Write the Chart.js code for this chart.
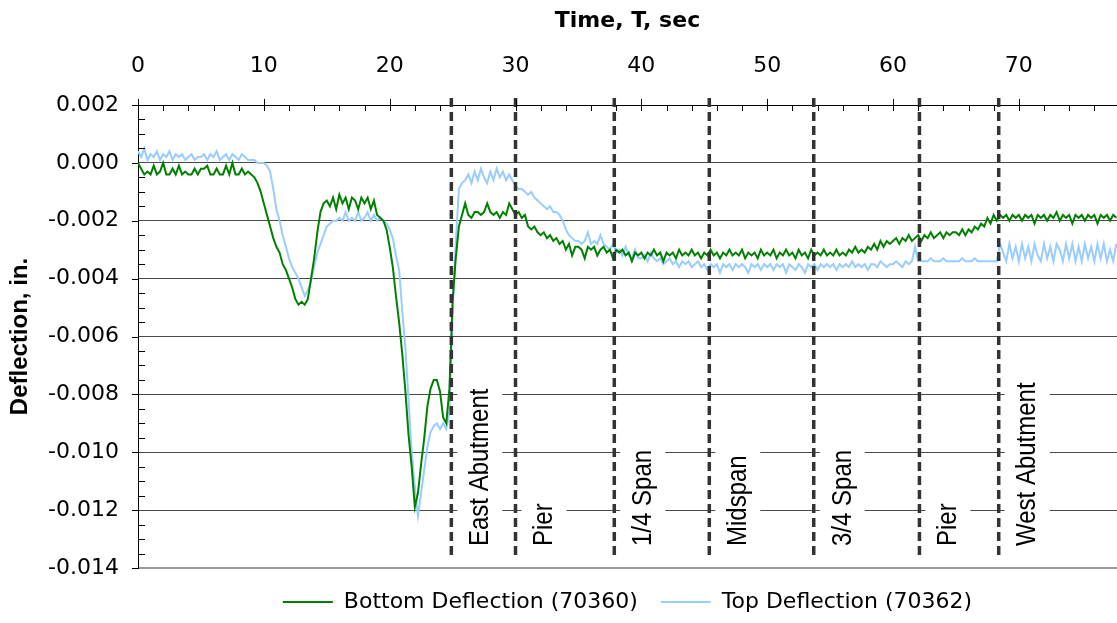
<!DOCTYPE html>
<html>
<head>
<meta charset="utf-8">
<script src="https://cdn.jsdelivr.net/npm/chart.js@4.4.1/dist/chart.umd.min.js"></script>
<style>
html,body{margin:0;padding:0;background:#fff}
#wrap{width:1117px;height:623px;position:relative}
</style>
</head>
<body>
<div id="wrap"><canvas id="c"></canvas></div>
<script>
// Sample interval of the digitised records (seconds)
const sampleStep = 0.25;

// Bottom Deflection (70360), inches, t = 0 .. 77.75 s
const bottomDeflection = [
 0.0000,-0.0002,-0.0004,-0.0003,-0.0004,-0.0001,-0.0004,-0.0003,0.0000,-0.0004,-0.0004,-0.0002,-0.0004,-0.0001,-0.0004,-0.0003,-0.0004,-0.0004,-0.0002,-0.0004,
 -0.0002,-0.0002,-0.0001,-0.0004,-0.0004,-0.0002,-0.0004,-0.0004,-0.0001,-0.0004,0.0000,-0.0004,-0.0004,-0.0002,-0.0004,-0.0003,-0.0004,-0.0005,-0.0007,-0.0010,
 -0.0014,-0.0018,-0.0022,-0.0026,-0.0029,-0.0031,-0.0035,-0.0037,-0.0040,-0.0043,-0.0047,-0.0049,-0.0048,-0.0049,-0.0047,-0.0040,-0.0033,-0.0024,-0.0017,-0.0014,
 -0.0013,-0.0015,-0.0012,-0.0016,-0.0011,-0.0014,-0.0012,-0.0016,-0.0012,-0.0013,-0.0016,-0.0012,-0.0014,-0.0012,-0.0016,-0.0013,-0.0018,-0.0019,-0.0020,-0.0023,
 -0.0029,-0.0036,-0.0046,-0.0055,-0.0066,-0.0079,-0.0094,-0.0105,-0.0119,-0.0114,-0.0104,-0.0095,-0.0084,-0.0078,-0.0075,-0.0075,-0.0079,-0.0088,-0.0090,-0.0078,
 -0.0048,-0.0033,-0.0022,-0.0018,-0.0014,-0.0018,-0.0019,-0.0017,-0.0017,-0.0018,-0.0017,-0.0014,-0.0017,-0.0018,-0.0017,-0.0019,-0.0017,-0.0018,-0.0014,-0.0016,
 -0.0018,-0.0017,-0.0019,-0.0018,-0.0022,-0.0023,-0.0022,-0.0024,-0.0025,-0.0024,-0.0026,-0.0025,-0.0027,-0.0026,-0.0028,-0.0027,-0.0030,-0.0028,-0.0032,-0.0029,
 -0.0029,-0.0030,-0.0033,-0.0029,-0.0030,-0.0029,-0.0032,-0.0030,-0.0029,-0.0031,-0.0030,-0.0033,-0.0030,-0.0031,-0.0030,-0.0032,-0.0031,-0.0034,-0.0031,-0.0032,
 -0.0031,-0.0033,-0.0031,-0.0032,-0.0030,-0.0032,-0.0031,-0.0034,-0.0031,-0.0032,-0.0031,-0.0033,-0.0030,-0.0032,-0.0031,-0.0032,-0.0030,-0.0032,-0.0031,-0.0033,
 -0.0031,-0.0032,-0.0030,-0.0032,-0.0031,-0.0033,-0.0031,-0.0032,-0.0030,-0.0032,-0.0031,-0.0032,-0.0030,-0.0033,-0.0031,-0.0032,-0.0031,-0.0033,-0.0030,-0.0032,
 -0.0031,-0.0032,-0.0030,-0.0033,-0.0031,-0.0032,-0.0030,-0.0032,-0.0031,-0.0033,-0.0030,-0.0032,-0.0031,-0.0033,-0.0030,-0.0032,-0.0031,-0.0032,-0.0030,-0.0032,
 -0.0031,-0.0032,-0.0030,-0.0032,-0.0031,-0.0032,-0.0030,-0.0031,-0.0029,-0.0031,-0.0030,-0.0031,-0.0029,-0.0030,-0.0028,-0.0030,-0.0027,-0.0029,-0.0027,-0.0028,
 -0.0027,-0.0026,-0.0028,-0.0026,-0.0027,-0.0025,-0.0027,-0.0026,-0.0025,-0.0027,-0.0025,-0.0026,-0.0024,-0.0026,-0.0025,-0.0024,-0.0026,-0.0024,-0.0025,-0.0024,
 -0.0024,-0.0025,-0.0023,-0.0025,-0.0023,-0.0024,-0.0022,-0.0023,-0.0021,-0.0022,-0.0019,-0.0021,-0.0018,-0.0020,-0.0018,-0.0019,-0.0018,-0.0020,-0.0018,-0.0019,
 -0.0018,-0.0020,-0.0018,-0.0019,-0.0018,-0.0021,-0.0018,-0.0019,-0.0018,-0.0020,-0.0018,-0.0019,-0.0017,-0.0020,-0.0018,-0.0019,-0.0018,-0.0021,-0.0018,-0.0019,
 -0.0018,-0.0020,-0.0018,-0.0019,-0.0018,-0.0021,-0.0018,-0.0019,-0.0018,-0.0020,-0.0018,-0.0019
];

// Top Deflection (70362), inches, t = 0 .. 77.75 s
const topDeflection = [
 0.0004,0.0002,0.0005,0.0001,0.0003,0.0002,0.0004,0.0001,0.0003,0.0002,0.0004,0.0001,0.0003,0.0002,0.0003,0.0001,0.0002,0.0003,0.0001,0.0002,
 0.0002,0.0003,0.0001,0.0003,0.0002,0.0004,0.0001,0.0002,0.0003,0.0001,0.0003,0.0002,0.0001,0.0003,0.0002,0.0001,0.0001,0.0001,0.0000,0.0000,
 0.0000,-0.0001,-0.0003,-0.0009,-0.0016,-0.0020,-0.0025,-0.0029,-0.0033,-0.0036,-0.0038,-0.0040,-0.0043,-0.0046,-0.0044,-0.0041,-0.0036,-0.0031,-0.0028,-0.0025,
 -0.0022,-0.0021,-0.0020,-0.0020,-0.0019,-0.0020,-0.0017,-0.0020,-0.0019,-0.0020,-0.0017,-0.0020,-0.0019,-0.0017,-0.0020,-0.0018,-0.0020,-0.0019,-0.0020,-0.0021,
 -0.0023,-0.0026,-0.0032,-0.0037,-0.0051,-0.0064,-0.0082,-0.0100,-0.0112,-0.0122,-0.0114,-0.0106,-0.0098,-0.0093,-0.0091,-0.0090,-0.0092,-0.0090,-0.0092,-0.0086,
 -0.0052,-0.0028,-0.0009,-0.0007,-0.0006,-0.0004,-0.0007,-0.0003,-0.0006,-0.0002,-0.0005,-0.0007,-0.0003,-0.0006,-0.0002,-0.0005,-0.0003,-0.0006,-0.0004,-0.0006,
 -0.0008,-0.0009,-0.0009,-0.0010,-0.0011,-0.0010,-0.0012,-0.0013,-0.0014,-0.0015,-0.0016,-0.0015,-0.0017,-0.0017,-0.0018,-0.0020,-0.0023,-0.0025,-0.0026,-0.0027,
 -0.0027,-0.0028,-0.0027,-0.0024,-0.0028,-0.0027,-0.0028,-0.0025,-0.0028,-0.0029,-0.0030,-0.0028,-0.0031,-0.0030,-0.0032,-0.0029,-0.0032,-0.0033,-0.0030,-0.0033,
 -0.0033,-0.0032,-0.0034,-0.0031,-0.0033,-0.0034,-0.0033,-0.0035,-0.0034,-0.0033,-0.0035,-0.0034,-0.0036,-0.0034,-0.0035,-0.0034,-0.0036,-0.0035,-0.0034,-0.0036,
 -0.0035,-0.0037,-0.0035,-0.0036,-0.0035,-0.0038,-0.0035,-0.0036,-0.0035,-0.0037,-0.0035,-0.0036,-0.0035,-0.0036,-0.0038,-0.0035,-0.0036,-0.0035,-0.0037,-0.0035,
 -0.0036,-0.0035,-0.0037,-0.0035,-0.0036,-0.0035,-0.0038,-0.0035,-0.0036,-0.0037,-0.0035,-0.0036,-0.0038,-0.0035,-0.0036,-0.0035,-0.0037,-0.0035,-0.0036,-0.0035,
 -0.0036,-0.0035,-0.0037,-0.0035,-0.0036,-0.0035,-0.0036,-0.0034,-0.0036,-0.0035,-0.0036,-0.0035,-0.0037,-0.0035,-0.0035,-0.0036,-0.0034,-0.0035,-0.0036,-0.0035,
 -0.0035,-0.0034,-0.0035,-0.0036,-0.0034,-0.0035,-0.0034,-0.0029,-0.0034,-0.0034,-0.0034,-0.0034,-0.0033,-0.0034,-0.0034,-0.0034,-0.0033,-0.0034,-0.0034,-0.0034,
 -0.0034,-0.0034,-0.0033,-0.0034,-0.0034,-0.0034,-0.0033,-0.0034,-0.0034,-0.0034,-0.0034,-0.0034,-0.0034,-0.0034,-0.0028,-0.0031,-0.0034,-0.0028,-0.0033,-0.0029,
 -0.0034,-0.0028,-0.0033,-0.0029,-0.0034,-0.0028,-0.0032,-0.0034,-0.0028,-0.0033,-0.0029,-0.0034,-0.0028,-0.0030,-0.0034,-0.0028,-0.0033,-0.0028,-0.0034,-0.0029,
 -0.0034,-0.0028,-0.0033,-0.0029,-0.0034,-0.0028,-0.0033,-0.0028,-0.0034,-0.0030,-0.0034,-0.0028
];

// Sensor-position markers along the bridge (time, s) and their labels
const markerTimes = [24.9, 30.0, 37.85, 45.4, 53.7, 62.1, 68.4];
const markerLabels = ["East Abutment", "Pier", "1/4 Span", "Midspan", "3/4 Span", "Pier", "West Abutment"];

const seriesNames = ["Bottom Deflection (70360)", "Top Deflection (70362)"];
const xRange = [0, 77.8];
const yRange = [-0.014, 0.002];

const toPoints = arr => arr.map((v, i) => ({x: i * sampleStep, y: v}));

const H_FONT = '"DejaVu Sans", sans-serif';
const R_FONT = '"Liberation Sans", Arial, sans-serif';

const decorPlugin = {
  id: 'decor',
  beforeDatasetsDraw(chart) {
    const {ctx, chartArea, scales: {x}} = chart;
    ctx.save();
    ctx.font = '24px ' + R_FONT;
    markerTimes.forEach((t, i) => {
      const cx = x.getPixelForValue(t) + 28;
      const len = ctx.measureText(markerLabels[i]).width;
      const yb = chartArea.bottom - 22;
      ctx.fillStyle = '#ffffff';
      ctx.fillRect(cx - 22, yb - len - 7, 45, len + 14);
      ctx.save();
      ctx.translate(cx, yb);
      ctx.scale(1.15, 1);
      ctx.rotate(-Math.PI / 2);
      ctx.fillStyle = '#000';
      ctx.textAlign = 'left';
      ctx.textBaseline = 'middle';
      ctx.fillText(markerLabels[i], 0, 1);
      ctx.restore();
    });
    ctx.restore();
  },
  afterDatasetsDraw(chart) {
    const {ctx, chartArea, scales: {x, y}} = chart;
    ctx.save();
    // dashed marker lines
    ctx.strokeStyle = '#333';
    ctx.lineWidth = 3.5;
    ctx.setLineDash([9, 5]);
    markerTimes.forEach(t => {
      const px = x.getPixelForValue(t);
      ctx.beginPath();
      ctx.moveTo(px, chartArea.top - 7);
      ctx.lineTo(px, chartArea.bottom - 10);
      ctx.stroke();
    });
    // tick marks
    ctx.setLineDash([]);
    ctx.strokeStyle = '#000';
    ctx.lineWidth = 1;
    ctx.beginPath();
    for (let k = 0; k * 2 <= x.max; k++) {
      const px = Math.round(x.getPixelForValue(k * 2)) + 0.5;
      const major = k % 5 === 0;
      ctx.moveTo(px, major ? chartArea.top - 6 : chartArea.top);
      ctx.lineTo(px, chartArea.top + 6);
    }
    for (let k = -28; k <= 4; k++) {
      const py = Math.round(y.getPixelForValue(k * 0.0005)) + 0.5;
      const major = k % 4 === 0;
      if (major) { ctx.moveTo(chartArea.left - 6, py); ctx.lineTo(chartArea.left, py); }
      else { ctx.moveTo(chartArea.left, py); ctx.lineTo(chartArea.left + 7, py); }
    }
    ctx.stroke();
    ctx.restore();
  }
};

new Chart(document.getElementById('c'), {
  type: 'line',
  data: {
    datasets: [
      {
        label: seriesNames[0],
        data: toPoints(bottomDeflection),
        borderColor: '#008000',
        backgroundColor: '#008000',
        borderWidth: 2,
        pointRadius: 0,
        tension: 0
      },
      {
        label: seriesNames[1],
        data: toPoints(topDeflection),
        borderColor: '#99ccff',
        backgroundColor: '#99ccff',
        borderWidth: 2,
        pointRadius: 0,
        tension: 0
      }
    ]
  },
  options: {
    responsive: true,
    maintainAspectRatio: false,
    animation: false,
    layout: {padding: {left: 0, right: 0, top: 0, bottom: 0}},
    plugins: {
      tooltip: {enabled: false},
      legend: {
        position: 'bottom',
        fullSize: false,
        labels: {
          usePointStyle: true,
          pointStyle: 'line',
          pointStyleWidth: 50,
          boxWidth: 50,
          padding: 23,
          color: '#000',
          font: {family: H_FONT, size: 22}
        }
      }
    },
    scales: {
      x: {
        type: 'linear',
        position: 'top',
        min: xRange[0],
        max: xRange[1],
        afterFit(s) { s.height = 105; },
        grid: {display: false, drawTicks: false, tickLength: 0},
        border: {display: true, color: '#000', width: 1},
        ticks: {
          stepSize: 10,
          includeBounds: false,
          autoSkip: false,
          maxRotation: 0,
          padding: 26,
          color: '#000',
          font: {family: H_FONT, size: 22}
        },
        title: {
          display: true,
          text: 'Time, T, sec',
          color: '#000',
          padding: {top: 8, bottom: 0},
          font: {family: H_FONT, size: 22, weight: 'bold'}
        }
      },
      y: {
        type: 'linear',
        min: yRange[0],
        max: yRange[1],
        afterFit(s) { s.width = 138; },
        grid: {
          drawTicks: false,
          tickLength: 0,
          color: c => (Math.abs(c.tick.value - yRange[0]) < 1e-9 ? '#9a9a9a' : '#4a4a4a'),
          lineWidth: c => (Math.abs(c.tick.value - yRange[0]) < 1e-9 ? 2 : 1)
        },
        border: {display: true, color: '#000', width: 1},
        ticks: {
          stepSize: 0.002,
          padding: 19,
          color: '#000',
          font: {family: H_FONT, size: 22},
          callback: v => (Math.abs(v) < 1e-9 ? 0 : v).toFixed(3)
        },
        title: {
          display: true,
          text: 'Deflection, in.',
          color: '#000',
          padding: {top: 6, bottom: 0},
          font: {family: R_FONT, size: 24, weight: 'bold'}
        }
      }
    }
  },
  plugins: [decorPlugin]
});
</script>
</body>
</html>
